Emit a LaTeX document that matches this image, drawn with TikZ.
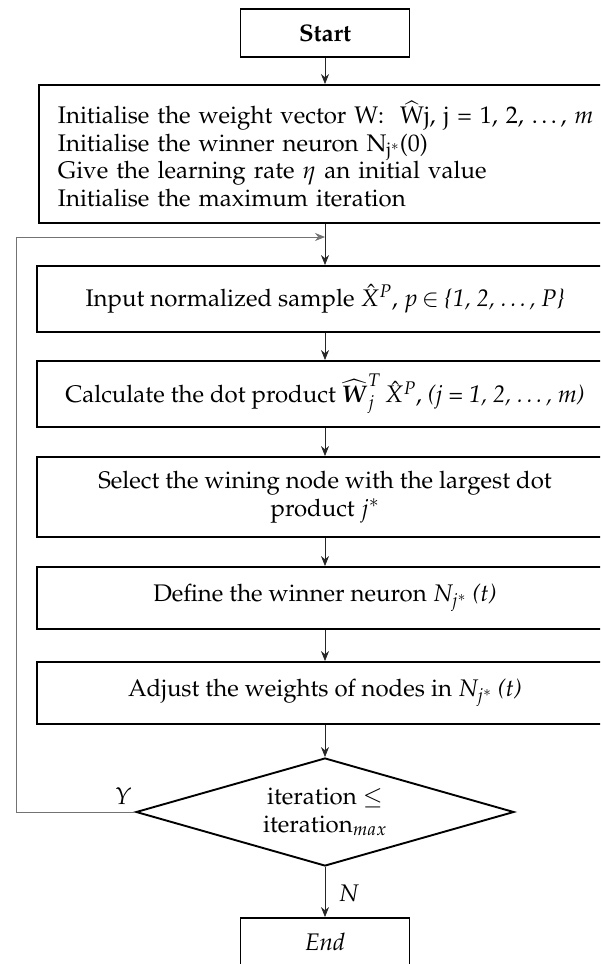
\documentclass[tikz,border=0pt]{standalone}
\usepackage[T1]{fontenc}
\usepackage{mathpazo}
\usepackage{mathtools}
\usepackage{amssymb}
\usepackage{tikz}
\usetikzlibrary{arrows,arrows.meta,shapes.geometric}

\tikzset{
  every node/.style={font=\fontsize{24}{27.5}\selectfont},
  stepbox/.style={draw, line width=1.9pt, minimum width=576pt, inner sep=4pt, align=center},
  termbox/.style={draw, line width=1.9pt, minimum width=169pt, minimum height=48pt},
  decide/.style={draw, diamond, aspect=3.5, line width=1.9pt, minimum width=378pt, minimum height=108pt, inner sep=0pt, align=center},
  arr/.style={-{Stealth[length=10pt,width=8pt]}, line width=0.8pt, draw=black!85},
  backline/.style={line width=1pt, draw=black!55},
  lbl/.style={font=\fontsize{24}{27.5}\selectfont\itshape}
}

\begin{document}
\begin{tikzpicture}[x=1pt,y=-1pt]
\useasboundingbox (0,0) rectangle (600,964);
\clip (0,0) rectangle (600,964);
\node[termbox] (start) at (325,33) {\textbf{Start}};
\node[stepbox, anchor=west, align=left, text width=580pt, inner xsep=19pt, minimum height=138pt] (init) at (38,154) {Initialise the weight vector W:\ \ $\widehat{\mathrm{W}}$j, j = 1, 2, \dots, \textit{m}\\Initialise the winner neuron N$_{\mathrm{j}^{*}}$(0)\\Give the learning rate $\eta$ an initial value\\Initialise the maximum iteration};
\node[stepbox, minimum height=66pt] (input) at (325,299) {Input normalized sample $\hat{X}^{P}$, $p\,{\in}$\ \textit{\{1, 2, \dots, P\}}};
\node[stepbox, minimum height=66pt] (calc) at (325,394) {Calculate the dot product $\widehat{\boldsymbol{W}}_{j}^{T}\,\hat{X}^{P}$, \textit{(j = 1, 2, \dots, m)}};
\node[stepbox, minimum height=80pt] (select) at (325,497) {Select the wining node with the largest dot\\product $j^{*}$};
\node[stepbox, minimum height=62pt] (define) at (325,598) {Define the winner neuron $N_{j^{*}}$ \textit{(t)}};
\node[stepbox, minimum height=62pt] (adjust) at (325,693) {Adjust the weights of nodes in $N_{j^{*}}$ \textit{(t)}};
\node[decide] (check) at (325,812) {iteration $\leq$\\iteration$_{max}$};
\node[termbox] (finish) at (325,942) {\textit{End}};
\node[lbl] (ylab) at (123,796) {Y};
\node[lbl] (nlab) at (349,893) {N};
\coordinate (corner) at (16,237);

\draw[arr] (start) -- (start |- init.north);
\draw[arr] (input |- init.south) -- (input);
\draw[arr] (input) -- (calc);
\draw[arr] (calc) -- (select);
\draw[arr] (select) -- (define);
\draw[arr] (define) -- (adjust);
\draw[arr] (adjust) -- (check);
\draw[arr] (check) -- (finish);
\draw[backline] (check.west) -| (corner);
\draw[arr, draw=black!55] (corner) -- (corner -| input);
\end{tikzpicture}
\end{document}
